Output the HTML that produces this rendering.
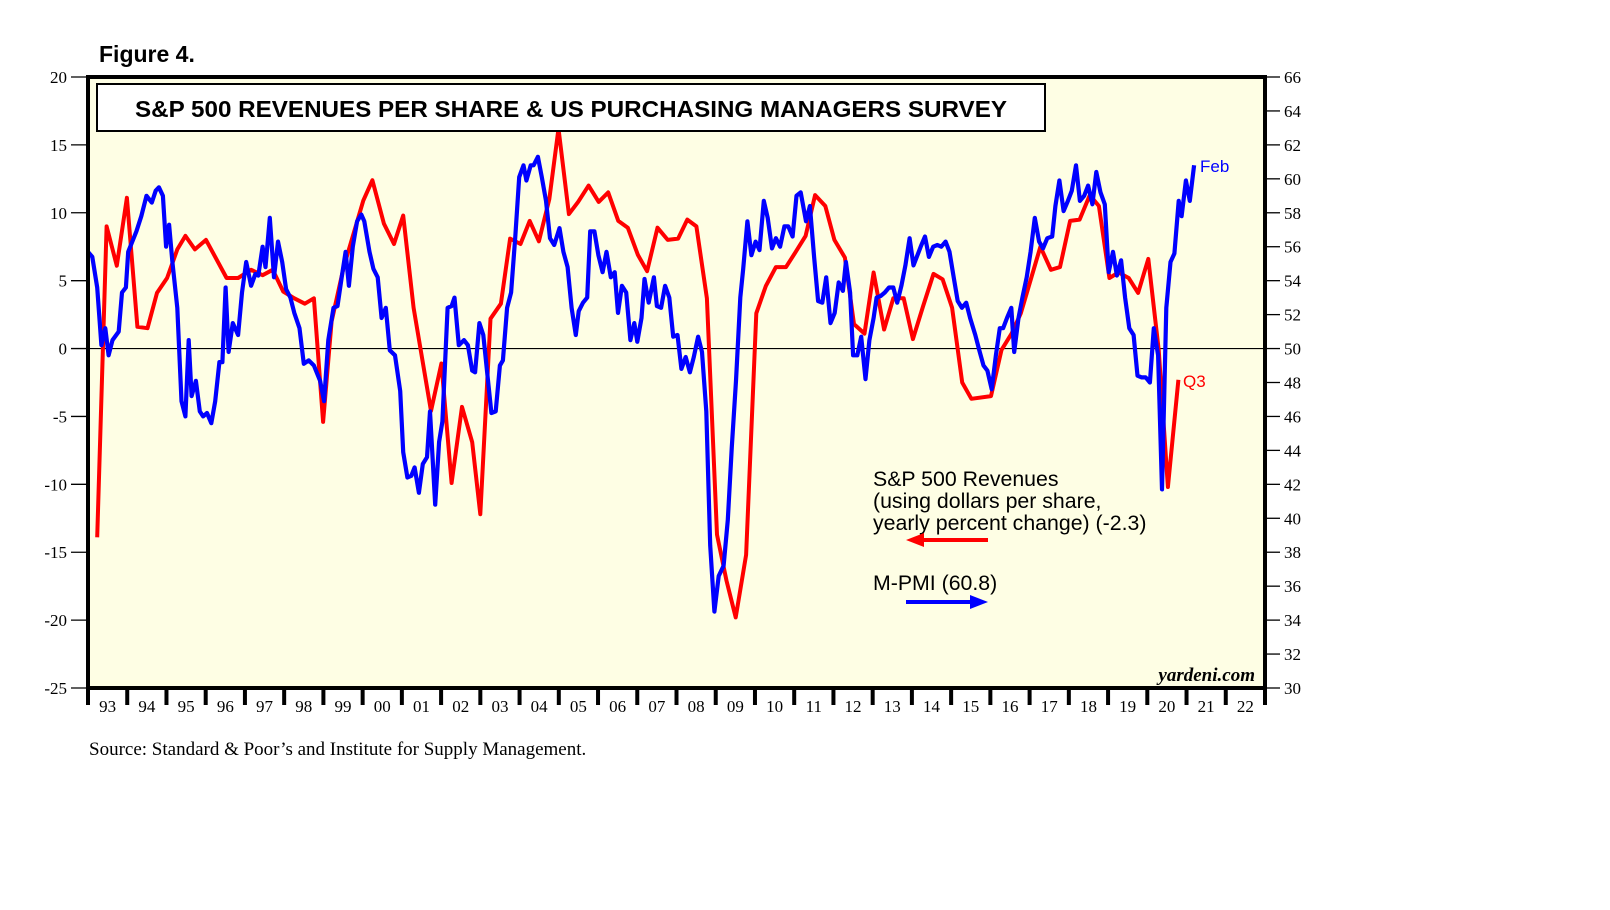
<!DOCTYPE html>
<html><head><meta charset="utf-8"><style>
html,body{margin:0;padding:0;background:#fff;}
svg{display:block;}
text{font-family:"Liberation Serif",serif;}
</style></head><body>
<svg id="chart" width="1610" height="910" viewBox="0 0 1610 910" xmlns="http://www.w3.org/2000/svg">
<text x="99" y="62" font-weight="bold" font-size="23" style="font-family:'Liberation Sans',sans-serif">Figure 4.</text>
<rect x="88" y="77" width="1177" height="611" fill="#fefee4"/>
<g id="axes"></g>
<g id="series"></g>
<rect x="88" y="77" width="1177" height="611" fill="none" stroke="#000" stroke-width="4"/>
<rect x="97" y="84" width="948" height="47" fill="#fff" stroke="#000" stroke-width="2"/>
<text x="571" y="117" text-anchor="middle" font-weight="bold" font-size="23.5" textLength="872" lengthAdjust="spacingAndGlyphs" style="font-family:'Liberation Sans',sans-serif">S&amp;P 500 REVENUES PER SHARE &amp; US PURCHASING MANAGERS SURVEY</text>
<g font-size="21.3">
<text x="873" y="486" style="font-family:'Liberation Sans',sans-serif">S&amp;P 500 Revenues</text>
<text x="873" y="508" style="font-family:'Liberation Sans',sans-serif">(using dollars per share,</text>
<text x="873" y="530" style="font-family:'Liberation Sans',sans-serif">yearly percent change) (-2.3)</text>
<line x1="988" y1="540" x2="920" y2="540" stroke="#f00" stroke-width="4"/>
<polygon points="906,540 924,533 924,547" fill="#f00"/>
</g>
<g>
<text x="873" y="590" font-size="21.3" style="font-family:'Liberation Sans',sans-serif">M-PMI (60.8)</text>
<line x1="906" y1="602" x2="974" y2="602" stroke="#00f" stroke-width="4"/>
<polygon points="988,602 970,595 970,609" fill="#00f"/>
</g>
<text x="1200" y="172" font-size="17" fill="#00f" style="font-family:'Liberation Sans',sans-serif">Feb</text>
<text x="1183" y="387" font-size="17" fill="#f00" style="font-family:'Liberation Sans',sans-serif">Q3</text>
<text x="1255" y="681" text-anchor="end" font-size="19" font-style="italic" font-weight="bold">yardeni.com</text>
<text x="89" y="755" font-size="19">Source: Standard &amp; Poor’s and Institute for Supply Management.</text>
</svg>
<script>
const leftTicks=[20,15,10,5,0,-5,-10,-15,-20,-25];
const rightTicks=[66,64,62,60,58,56,54,52,50,48,46,44,42,40,38,36,34,32,30];
const yearLabels=["93","94","95","96","97","98","99","00","01","02","03","04","05","06","07","08","09","10","11","12","13","14","15","16","17","18","19","20","21","22"];
const revMonths=[2.8,5.7,8.8,11.9,15.1,18.2,21.1,24.2,27.3,29.8,32.7,36.1,42.4,45.9,49.9,53.4,56.5,59.7,63.1,66.3,69.1,71.9,74.5,78.2,84.2,87.0,90.5,93.6,96.4,99.6,104.9,108.1,111.2,114.4,117.5,120.0,123.1,126.3,129.1,132.3,135.1,137.9,141.1,143.9,147.1,149.9,153.1,156.2,159.1,162.2,165.1,168.2,171.0,174.2,177.3,180.5,183.3,186.1,189.3,192.4,195.3,198.1,201.3,204.4,207.3,210.4,213.5,216.4,219.5,222.4,225.5,228.3,231.5,234.3,237.5,240.3,243.5,246.3,249.5,252.3,255.4,258.6,261.4,264.3,267.4,270.2,276.2,279.4,282.5,285.3,288.5,291.3,294.5,297.3,300.4,303.3,306.4,309.2,312.4,315.2,318.3,321.2,324.3,327.5,330.3,333.5];
const revValues=[-13.9,9.0,6.1,11.1,1.6,1.5,4.1,5.2,7.3,8.3,7.3,8.0,5.2,5.2,5.8,5.4,5.8,4.2,3.7,3.3,3.7,-5.4,2.0,6.0,10.9,12.4,9.2,7.7,9.8,3.0,-4.6,-1.1,-9.9,-4.3,-6.9,-12.2,2.2,3.3,8.1,7.7,9.4,7.9,11.0,16.2,9.9,10.8,12.0,10.8,11.5,9.4,8.9,6.9,5.7,8.9,8.0,8.1,9.5,9.0,3.7,-13.7,-17.1,-19.8,-15.2,2.6,4.6,6.0,6.0,7.1,8.3,11.3,10.5,8.0,6.7,1.8,1.1,5.6,1.4,3.7,3.7,0.7,3.1,5.5,5.1,3.0,-2.5,-3.7,-3.5,-0.1,1.1,2.6,5.2,7.5,5.8,6.0,9.4,9.5,11.3,10.5,5.2,5.6,5.2,4.1,6.6,-0.1,-10.2,-2.3];
const pmiMonths=[0,1.3,2.8,4.1,5.3,6.3,7.5,9.4,10.4,11.6,12.3,14.8,16.3,17.9,19.5,20.7,21.7,22.9,23.9,24.8,25.8,27.3,28.6,29.8,30.8,31.7,33.0,34.2,35.2,36.4,37.7,38.9,40.2,41.1,42.1,43.0,44.3,45.9,47.1,48.4,49.9,51.2,52.1,53.4,54.3,55.6,56.9,58.1,59.4,60.6,61.9,63.1,64.7,66.0,67.5,69.1,71.0,72.2,73.5,75.1,76.3,77.6,78.8,79.8,81.0,82.3,83.6,84.5,86.1,87.3,88.6,89.8,91.1,92.3,93.9,95.5,96.4,97.7,98.9,99.9,101.2,102.4,103.7,104.6,106.2,107.4,108.4,110.0,111.2,112.1,113.4,115.0,116.2,117.5,118.4,119.7,120.9,122.2,123.4,124.7,126.0,126.9,128.2,129.4,130.7,131.9,133.2,134.1,135.4,136.3,137.6,138.8,140.1,141.3,142.6,144.2,145.4,146.7,147.9,149.2,150.1,151.4,152.7,153.6,154.9,156.1,157.4,158.6,159.9,161.1,162.1,163.3,164.6,165.9,167.1,168.0,169.3,170.2,171.5,173.1,174.0,175.3,176.5,177.8,179.0,180.3,181.5,182.8,184.1,185.3,186.6,187.8,189.1,190.3,191.6,192.9,194.4,195.7,196.9,198.2,199.5,200.4,201.7,202.9,204.2,205.4,206.7,207.9,209.2,210.4,211.7,213.0,214.2,215.5,216.7,218.0,219.6,220.8,222.1,223.3,224.6,225.8,227.1,228.4,229.6,230.9,231.8,233.1,234.0,235.3,236.5,237.8,239.0,240.3,241.2,242.5,243.7,245.0,246.3,247.5,248.8,250.0,251.3,252.5,253.5,254.7,256.0,257.2,258.5,259.8,261.0,262.3,263.5,264.8,266.0,267.3,268.6,269.8,271.4,272.6,273.9,275.1,276.4,277.7,278.9,279.9,281.1,282.4,283.3,284.6,285.8,287.1,288.3,289.6,290.9,292.1,293.4,294.9,295.9,297.1,298.4,299.7,300.9,302.2,303.4,304.7,305.9,307.2,308.4,309.7,311.0,312.2,313.5,314.7,316.0,317.2,318.5,319.8,321.0,322.3,323.5,324.8,326.0,327.3,328.5,329.8,331.1,332.3,333.6,334.5,335.8,337.0,338.3];
const pmiValues=[55.7,55.4,53.6,50.2,51.2,49.6,50.5,51.0,53.3,53.6,55.7,56.9,57.8,59.0,58.6,59.3,59.5,59.0,56.0,57.3,55.1,52.4,46.9,46.0,50.5,47.2,48.1,46.3,46.0,46.2,45.6,46.9,49.2,49.2,53.6,49.8,51.5,50.8,53.3,55.1,53.7,54.4,54.3,56.0,54.8,57.7,54.2,56.3,55.1,53.5,53.0,52.1,51.2,49.1,49.3,49.0,48.1,46.9,50.5,52.4,52.5,54.2,55.7,53.7,56.0,57.5,57.9,57.5,55.7,54.7,54.2,51.8,52.4,49.9,49.6,47.5,43.9,42.4,42.5,43.0,41.5,43.2,43.6,46.3,40.8,44.5,45.7,52.4,52.5,53.0,50.2,50.5,50.2,48.7,48.6,51.5,50.8,48.4,46.2,46.3,49.0,49.3,52.4,53.3,56.6,60.1,60.8,59.9,60.8,60.8,61.3,60.1,58.7,56.5,56.1,57.1,55.7,54.8,52.4,50.8,52.2,52.7,53.0,56.9,56.9,55.5,54.5,55.7,54.2,54.5,52.1,53.7,53.3,50.5,51.5,50.4,51.8,54.1,52.7,54.2,52.5,52.4,53.7,53.0,50.7,50.8,48.8,49.5,48.6,49.5,50.7,49.8,46.3,38.4,34.5,36.6,37.2,39.9,44.2,48.1,53.0,54.7,57.5,55.5,56.3,55.8,58.7,57.7,55.9,56.5,56.0,57.2,57.2,56.6,59.0,59.2,57.5,58.4,55.4,52.8,52.7,54.2,51.5,52.1,53.9,53.4,55.1,53.3,49.6,49.6,50.7,48.2,50.5,51.8,53.0,53.1,53.3,53.6,53.6,52.7,53.7,54.9,56.5,54.9,55.4,56.0,56.6,55.4,56.0,56.1,56.0,56.3,55.7,54.2,52.8,52.4,52.7,51.8,50.8,49.9,49.0,48.7,47.6,49.6,51.2,51.2,51.8,52.4,49.8,51.8,53.0,54.2,55.7,57.7,56.3,55.9,56.5,56.6,58.4,59.9,58.1,58.7,59.3,60.8,58.7,59.0,59.6,58.5,60.4,59.2,58.5,54.5,55.7,54.3,55.2,53.0,51.2,50.8,48.4,48.3,48.3,48.0,51.2,49.6,41.7,52.4,55.1,55.6,58.7,57.8,59.9,58.7,60.8];

const NS="http://www.w3.org/2000/svg";
const L=88,R=1265,T=77,B=688;
const xScale=m=>L+(m/360)*(R-L);
const yLeft=v=>T+(20-v)/45*(B-T);
const yRight=v=>T+(66-v)/36*(B-T);
function mk(tag,attrs,parent){const e=document.createElementNS(NS,tag);for(const k in attrs)e.setAttribute(k,attrs[k]);parent.appendChild(e);return e;}
const axes=document.getElementById('axes');
const series=document.getElementById('series');

leftTicks.forEach(v=>{
  const y=yLeft(v);
  const t=mk('line',{x1:L-17,x2:L,y1:y,y2:y,stroke:'#000','stroke-width':1.3},axes);
  
  
  const lb=mk('text',{x:L-21,y:y+6,'text-anchor':'end','font-size':17},axes);
  
  
  lb.textContent=v;
});
rightTicks.forEach(v=>{
  const y=yRight(v);
  const t=mk('line',{x1:R,x2:R+15,y1:y,y2:y,stroke:'#000','stroke-width':1.3},axes);
  
  
  const lb=mk('text',{x:R+19,y:y+6,'font-size':17},axes);
  
  
  lb.textContent=v;
});
yearLabels.forEach((s,i)=>{
  const x0=xScale(i*12);
  const t=mk('line',{x1:x0,x2:x0,y1:B,y2:B+17,stroke:'#000','stroke-width':4},axes);
  
  
  const lb=mk('text',{x:xScale(i*12+6),y:B+24,'text-anchor':'middle','font-size':17},axes);
  
  
  lb.textContent=s;
});
const endTick=mk('line',{x1:R,x2:R,y1:B,y2:B+17,stroke:'#000','stroke-width':4},axes);


const zero=mk('line',{x1:L,x2:R,y1:yLeft(0),y2:yLeft(0),stroke:'#000','stroke-width':1.2},axes);



function path(ms,vs,ys){const n=Math.min(ms.length,vs.length);let d='';for(let i=0;i<n;i++)d+=(i?'L':'M')+xScale(ms[i]).toFixed(1)+','+ys(vs[i]).toFixed(1);return d;}
const red=mk('path',{d:path(revMonths,revValues,yLeft),fill:'none',stroke:'#f00','stroke-width':4,'stroke-linejoin':'round'},series);


const blue=mk('path',{d:path(pmiMonths,pmiValues,yRight),fill:'none',stroke:'#00f','stroke-width':4.2,'stroke-linejoin':'round'},series);


</script>
</body></html>
